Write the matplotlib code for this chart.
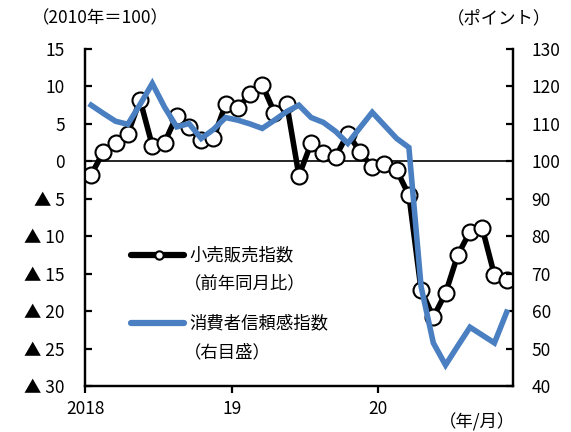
import numpy as np
import matplotlib
matplotlib.use("Agg")
import matplotlib.pyplot as plt

plt.rcParams['font.family'] = ['Noto Sans CJK JP', 'DejaVu Sans']

# 2018年1月～2020年11月
months = [f"{y}/{m}" for y in (2018, 2019, 2020) for m in range(1, 13)][:35]

# 小売販売指数（前年同月比、%）
retail = [-1.8, 1.3, 2.4, 3.7, 8.2, 2.1, 2.5, 6.1, 4.6, 2.8, 3.1, 7.6,
          7.1, 9.0, 10.2, 6.5, 7.7, -1.9, 2.4, 1.1, 0.6, 3.7, 1.3, -0.8,
          -0.3, -1.2, -4.5, -17.2, -20.8, -17.6, -12.5, -9.4, -8.9, -15.2, -15.9]

# 消費者信頼感指数（ポイント、右目盛）
confidence = [115.0, 112.8, 110.7, 109.9, 115.2, 120.8, 114.5, 109.2, 110.1, 106.1, 108.5, 111.7,
              111.0, 110.0, 108.8, 111.0, 113.3, 115.0, 111.7, 110.4, 108.0, 104.8, 109.0, 113.1,
              109.6, 106.1, 103.7, 66.5, 51.5, 45.6, 50.7, 55.7, 53.6, 51.5, 59.7]

left_ticks = [15, 10, 5, 0, -5, -10, -15, -20, -25, -30]
right_ticks = [130, 120, 110, 100, 90, 80, 70, 60, 50, 40]
year_ticks = [0, 12, 24]
year_labels = ["2018", "19", "20"]

blue = "#4a7fc1"
x = np.arange(len(months))

fig = plt.figure(figsize=(5.71, 4.32), dpi=100)
ax = fig.add_axes([0.149, 0.1065, 0.749, 0.78])
ax2 = ax.twinx()

ax.axhline(0, color="black", lw=1.2, zorder=1)
ax.plot(x, retail, color="black", lw=4, marker="o", markersize=11.5,
        markerfacecolor="white", markeredgecolor="black", markeredgewidth=1.5, zorder=3)
ax2.plot(x, confidence, color=blue, lw=4, solid_joinstyle="miter", zorder=4)

ax.set_xlim(-0.5, len(months) - 0.5)
ax.set_ylim(-30, 15)
ax2.set_ylim(40, 130)

ax.set_yticks(left_ticks)
ax.set_yticklabels([str(v) if v >= 0 else "▲ " + str(-v) for v in left_ticks])
ax2.set_yticks(right_ticks)
ax2.set_yticklabels([str(v) for v in right_ticks])
ax.set_xticks([t - 0.5 for t in year_ticks])
ax.set_xticklabels(year_labels)

for a in (ax, ax2):
    a.spines["top"].set_visible(False)
    for s in ("left", "right", "bottom"):
        a.spines[s].set_linewidth(1.6)
ax.tick_params(axis="y", direction="in", length=5, width=1.6, labelsize=12.5, pad=14.5)
ax2.tick_params(axis="y", direction="in", length=5, width=1.6, labelsize=12.5, pad=13.5)
ax.tick_params(axis="x", direction="out", length=5, width=1.6, labelsize=12.5, pad=5)

ax.set_zorder(ax2.get_zorder() - 1)
ax2.patch.set_visible(False)

# 凡例（手書き）
ax2.plot([0.108, 0.232], [0.389, 0.389], transform=ax.transAxes, color="black", lw=4.5,
         solid_capstyle="round", clip_on=False)
ax2.plot([0.172], [0.389], transform=ax.transAxes, marker="o", markersize=6,
         markerfacecolor="white", markeredgecolor="black", markeredgewidth=1.5, clip_on=False)
ax2.plot([0.108, 0.232], [0.187, 0.187], transform=ax.transAxes, color=blue, lw=4.5,
         solid_capstyle="round", clip_on=False)
ax.text(0.244, 0.389, "小売販売指数", transform=ax.transAxes, fontsize=12.5, va="center")
ax.text(0.232, 0.306, "（前年同月比）", transform=ax.transAxes, fontsize=12.5, va="center")
ax.text(0.244, 0.187, "消費者信頼感指数", transform=ax.transAxes, fontsize=12.5, va="center")
ax.text(0.232, 0.101, "（右目盛）", transform=ax.transAxes, fontsize=12.5, va="center")

fig.text(0.055, 0.958, "（2010年＝100）", fontsize=12.5, va="center")
fig.text(0.965, 0.958, "（ポイント）", fontsize=12.5, va="center", ha="right")
fig.text(0.902, 0.022, "（年/月）", fontsize=12.5, va="center", ha="right")

fig.savefig("out.png", dpi=100)
